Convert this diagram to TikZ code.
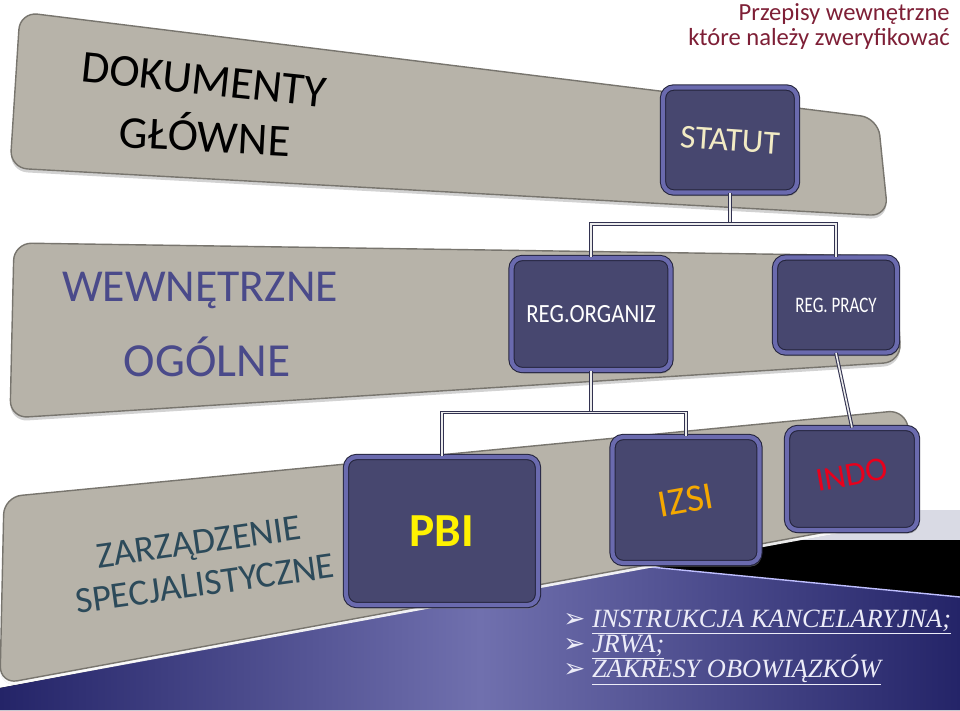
\documentclass[tikz,border=0pt]{standalone}
\usepackage{fontspec}
\setmainfont{Carlito}
\newfontfamily\listfont{Liberation Serif}
\newfontfamily\arrowfont{DejaVu Sans}
\usetikzlibrary{calc,shadows}

\definecolor{panelgrey}{RGB}{183,179,169}
\definecolor{panelrim}{RGB}{120,117,110}
\definecolor{boxfill}{RGB}{71,71,111}
\definecolor{boxrim}{RGB}{106,106,174}
\definecolor{boxedge}{RGB}{36,36,60}
\definecolor{connedge}{RGB}{50,50,80}
\definecolor{titlered}{RGB}{126,31,54}
\definecolor{wewblue}{RGB}{74,74,138}
\definecolor{zarslate}{RGB}{44,74,90}
\definecolor{statutcream}{RGB}{242,235,196}
\definecolor{izsiorange}{RGB}{245,168,0}
\definecolor{indored}{RGB}{232,0,28}
\definecolor{bluedark}{RGB}{36,36,104}
\definecolor{bluelight}{RGB}{112,112,174}
\definecolor{bandgrey}{RGB}{217,218,228}
\definecolor{listwhite}{RGB}{236,236,248}

\begin{document}
\begin{tikzpicture}[x=0.02cm,y=-0.02cm,
  panel/.style={fill=panelgrey,draw=panelrim,line width=0.8pt,rounded corners=10pt,
    drop shadow={shadow xshift=0pt,shadow yshift=-2pt,opacity=0.35}},
  docbox/.style={rectangle,rounded corners=6pt,fill=boxfill,draw=boxedge,double=boxrim,
    double distance=2.4pt,line width=0.6pt,inner sep=0pt,
    drop shadow={shadow xshift=1pt,shadow yshift=-2pt,opacity=0.6}},
  conn/.style={draw=connedge,double=white!85!gray,double distance=0.9pt,line width=0.6pt},
  bigcaps/.style={font=\fontsize{26}{28}\selectfont},
  item/.style={anchor=base west,text=listwhite,inner sep=0pt,
    font=\listfont\itshape\fontsize{15}{16}\selectfont}]
\useasboundingbox (0,0) rectangle (960,710);
\fill[white] (0,0) rectangle (960,710);

% slide background
\fill[left color=bluedark,right color=bluedark,middle color=bluelight]
  (0,688) -- (640,566) -- (960,597) -- (960,710) -- (0,710) -- cycle;
\fill[bandgrey] (760,510) rectangle (960,540);
\fill[black] (640,566) -- (774,540) -- (960,540) -- (960,597) -- cycle;
\draw[white!75!blue,line width=0.8pt] (640,566) -- (960,597);

% panels
\path[panel] (20,12) -- (878,118) -- (888,216) -- (10,168) -- cycle;
\path[panel] (14,243) -- (895,256) -- (901,362) -- (10,418) -- cycle;
\path[panel,drop shadow={shadow xshift=0pt,shadow yshift=-2pt,fill=white,opacity=0.9}]
  (4,497) -- (906,410) -- (918,515) -- (0,684) -- cycle;

% panel titles
\node[bigcaps,rotate=-6] (dokumenty) at (204,80) {DOKUMENTY};
\node[bigcaps,rotate=-3] (glowne) at (205,133) {GŁÓWNE};
\node[bigcaps,text=wewblue] (wewn) at (200,290) {WEWNĘTRZNE};
\node[font=\fontsize{27}{29}\selectfont,text=wewblue] (ogolne) at (207,357) {OGÓLNE};
\node[font=\fontsize{21}{24}\selectfont,text=zarslate,rotate=8,align=center] (zarz) at (202,563)
  {ZARZĄDZENIE\\SPECJALISTYCZNE};

% boxes
\node[docbox,minimum width=2.68cm,minimum height=2.1cm,text=statutcream,
  font=\fontsize{19}{21}\selectfont] (statut) at (730,140) {\rotatebox{-4}{STATUT}};
\node[docbox,minimum width=3.18cm,minimum height=2.24cm,text=white,
  font=\fontsize{13}{15}\selectfont] (regorg) at (591,314) {\scalebox{1}[1.15]{REG.ORGANIZ}};
\node[docbox,minimum width=2.44cm,minimum height=1.9cm,text=white,
  font=\fontsize{10.5}{12}\selectfont] (regpracy) at (836,305) {\scalebox{0.92}[1.2]{REG. PRACY}};
\node[docbox,minimum width=3.84cm,minimum height=2.96cm,text=yellow,
  font=\bfseries\fontsize{27}{29}\selectfont] (pbi) at (442,531) {PBI};
\node[docbox,minimum width=2.94cm,minimum height=2.52cm,text=izsiorange,
  font=\fontsize{22}{24}\selectfont] (izsi) at (686,500) {\rotatebox{10}{IZSI}};
\node[docbox,minimum width=2.6cm,minimum height=2.04cm,text=indored,
  font=\fontsize{19}{21}\selectfont] (indo) at (852,479) {\raisebox{5pt}{\rotatebox{10}{INDO}}};

% connectors
\coordinate (barA) at ($(statut.south)+(0,31)$);
\coordinate (barB) at ($(regorg.south)+(0,42)$);
\draw[conn] (statut.south) -- (barA);
\draw[conn] (regorg.north) |- (barA) -| (regpracy.north);
\draw[conn] (regorg.south) -- (barB);
\draw[conn] (pbi.north) |- (barB) -| (izsi.north);
\draw[conn] (regpracy.south) -- (indo.north);

% title
\node[anchor=north east,align=right,text=titlered,inner sep=0pt,
  font=\fontsize{14}{14.5}\selectfont] (title) at (950,3)
  {Przepisy wewnętrzne\\które należy zweryfikować};

% list
\node[item] (item1) at (563,627) {{\arrowfont\upshape ➢}\ \underline{INSTRUKCJA KANCELARYJNA;}};
\node[item] (item2) at (563,652) {{\arrowfont\upshape ➢}\ \underline{JRWA;}};
\node[item] (item3) at (563,677) {{\arrowfont\upshape ➢}\ \underline{ZAKRESY OBOWIĄZKÓW}};
\end{tikzpicture}
\end{document}
